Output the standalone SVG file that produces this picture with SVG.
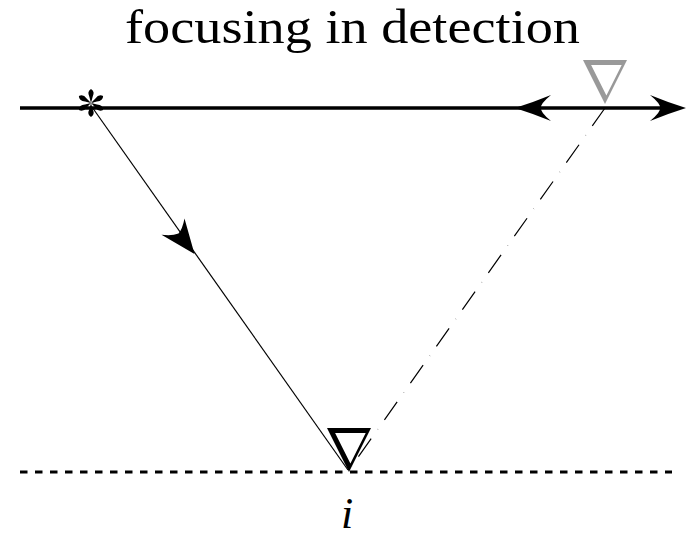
<svg xmlns="http://www.w3.org/2000/svg" width="688" height="537" viewBox="0 0 688 537">
<style>
.title{font-family:"Liberation Serif","Times New Roman",serif;font-size:48px;fill:#000}
.lbl{font-family:"Liberation Serif","Times New Roman",serif;font-size:44px;font-style:italic;fill:#000}
.thin{stroke:#000;stroke-width:1.2;fill:none}
.head{fill:#000;stroke:none}
</style>
<rect width="688" height="537" fill="#fff"/>
<text class="title" x="125" y="43" textLength="455" lengthAdjust="spacingAndGlyphs">focusing in detection</text>

<g id="connectors">
  <line x1="20" y1="108" x2="662" y2="108" stroke="#000" stroke-width="3.5"/>
  <path class="head" d="M515,108 Q534,102 551,95 Q540,104 541,108 Q540,112 551,121 Q534,114 515,108 Z"/>
  <path class="head" d="M686,108 Q667,102 650,95 Q661,104 660,108 Q661,112 650,121 Q667,114 686,108 Z"/>
  <line x1="20" y1="472" x2="672" y2="472" stroke="#000" stroke-width="3" stroke-dasharray="7.5 7.5"/>
  <line class="thin" x1="92" y1="107" x2="348" y2="470"/>
  <path class="head" d="M194.5,254 L184.5,218.5 Q182.5,229 178.5,233.5 Q172,236 161.5,234.7 Z"/>
  <line class="thin" x1="605" y1="108" x2="349" y2="470" stroke-dasharray="22 11.3 0.2 11.5"/>
</g>

<g id="source">
  <g transform="translate(91,103)" fill="#000">
    <path id="arm" d="M0,0 L-1.6,-6 Q-4.3,-11.5 0,-14 Q4.3,-11.5 1.6,-6 Z"/>
    <use href="#arm" transform="rotate(60)"/>
    <use href="#arm" transform="rotate(120)"/>
    <use href="#arm" transform="rotate(180)"/>
    <use href="#arm" transform="rotate(240)"/>
    <use href="#arm" transform="rotate(300)"/>
  </g>
</g>

<g id="receiver-gray">
  <path fill="#999" fill-rule="evenodd" d="M583,60 L627,60 L605,104 Z M591.1,65 L621.7,65 L606.4,95.6 Z"/>
</g>

<g id="receiver-i">
  <path fill="#000" fill-rule="evenodd" d="M327,428 L371,428 L349,472 Z M335.1,433 L365.7,433 L350.4,463.6 Z"/>
  <text class="lbl" x="347" y="528" text-anchor="middle">i</text>
</g>
</svg>
